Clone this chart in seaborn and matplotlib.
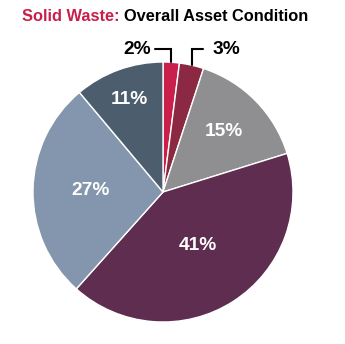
import numpy as np
import matplotlib
matplotlib.use("Agg")
import matplotlib.pyplot as plt
import seaborn as sns

sns.set_theme(style="white")
plt.rcParams['font.family'] = ['Liberation Sans Narrow', 'Liberation Sans', 'DejaVu Sans']

# Data (clockwise from top)
categories = ["A", "B", "C", "D", "E", "F"]
values = [2, 3, 15, 41, 27, 11]
labels = ["2%", "3%", "15%", "41%", "27%", "11%"]
colors = ["#C91F4B", "#8B2943", "#8F8F91", "#5E2D50", "#8496AD", "#4C5D6D"]
label_radius = [None, None, 0.66, 0.49, 0.56, 0.76]

fig = plt.figure(figsize=(3.45, 3.44), dpi=100)
ax = fig.add_axes([33/345, 22/344, 260/345, 260/344])
wedges, _ = ax.pie(values, colors=colors, startangle=90, counterclock=False,
                   radius=1.0, wedgeprops=dict(edgecolor="white", linewidth=1.0))
ax.set_xlim(-1, 1)
ax.set_ylim(-1, 1)
ax.set_aspect("equal")
ax.axis("off")

for w, lab, r in zip(wedges, labels, label_radius):
    mid = np.deg2rad((w.theta1 + w.theta2) / 2)
    if r is not None:
        ax.text(r*np.cos(mid), r*np.sin(mid), lab, color="white", fontsize=13.8,
                fontweight="bold", ha="center", va="center",
                family=['Liberation Sans', 'DejaVu Sans'])
    else:
        x0, y0 = np.cos(mid), np.sin(mid)
        ytop = 1.1
        if lab == "2%":
            x1 = x0 - 0.125
            ax.plot([x0, x0, x1], [y0, ytop, ytop], color="black", lw=1.5, clip_on=False,
                    solid_joinstyle="miter")
            ax.text(x1 - 0.03, ytop, lab, ha="right", va="center", fontsize=13.8,
                    fontweight="bold", color="black", family=['Liberation Sans', 'DejaVu Sans'])
        else:
            x1 = x0 + 0.09
            ax.plot([x0, x0, x1], [y0, ytop, ytop], color="black", lw=1.5, clip_on=False,
                    solid_joinstyle="miter")
            ax.text(x1 + 0.07, ytop, lab, ha="left", va="center", fontsize=13.8,
                    fontweight="bold", color="black", family=['Liberation Sans', 'DejaVu Sans'])

# Title in two colours
t1 = fig.text(22/345, 1 - 21/344, "Solid Waste: ", color="#C8204B", fontsize=11.8,
              fontweight="bold", ha="left", va="baseline")
fig.canvas.draw()
bb = t1.get_window_extent()
fig.text(bb.x1 / fig.bbox.width, 1 - 21/344, "Overall Asset Condition", color="black",
         fontsize=11.8, fontweight="bold", ha="left", va="baseline")

fig.savefig("out.png", dpi=100)
